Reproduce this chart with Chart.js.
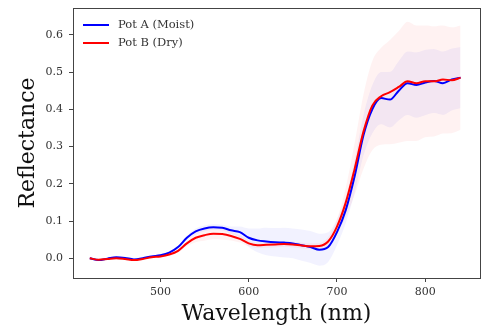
<!DOCTYPE html>
<html>
<head>
<meta charset="utf-8">
<script src="https://cdn.jsdelivr.net/npm/chart.js@4/dist/chart.umd.min.js"></script>
<style>
  html, body { margin: 0; padding: 0; background: #fff; }
  #wrap { width: 484px; height: 329px; }
</style>
</head>
<body>
<div id="wrap"><canvas id="specChart" width="484" height="329"></canvas></div>
<script>
// Wavelengths (nm)
const wavelengths = [420, 430, 440, 450, 460, 470, 480, 490, 500, 510, 520, 530, 540, 550, 560, 570, 580, 590, 600, 610, 620, 630, 640, 650, 660, 670, 680, 690, 700, 710, 720, 730, 740, 750, 760, 770, 780, 790, 800, 810, 820, 830, 840];

// Pot A (Moist) mean reflectance and std
const potAMean = [0.000, -0.005, -0.001, 0.003, 0.001, -0.003, 0.000, 0.005, 0.008, 0.015, 0.030, 0.055, 0.072, 0.080, 0.083, 0.082, 0.075, 0.070, 0.055, 0.048, 0.045, 0.043, 0.042, 0.040, 0.035, 0.030, 0.023, 0.030, 0.070, 0.130, 0.220, 0.330, 0.400, 0.430, 0.426, 0.450, 0.470, 0.465, 0.472, 0.476, 0.470, 0.480, 0.485];
const potAStd = [0.003, 0.003, 0.003, 0.003, 0.003, 0.003, 0.003, 0.003, 0.003, 0.003, 0.004, 0.006, 0.008, 0.008, 0.008, 0.008, 0.010, 0.015, 0.025, 0.032, 0.037, 0.038, 0.040, 0.040, 0.042, 0.043, 0.043, 0.040, 0.035, 0.035, 0.045, 0.055, 0.065, 0.070, 0.075, 0.080, 0.085, 0.088, 0.088, 0.086, 0.085, 0.083, 0.082];

// Pot B (Dry) mean reflectance and std
const potBMean = [0.000, -0.004, -0.002, 0.000, -0.002, -0.005, -0.002, 0.003, 0.005, 0.010, 0.020, 0.040, 0.055, 0.062, 0.066, 0.065, 0.060, 0.052, 0.040, 0.035, 0.036, 0.037, 0.038, 0.037, 0.034, 0.032, 0.033, 0.045, 0.085, 0.150, 0.240, 0.340, 0.410, 0.435, 0.446, 0.460, 0.475, 0.470, 0.475, 0.475, 0.480, 0.478, 0.485];
const potBStd = [0.003, 0.003, 0.003, 0.003, 0.003, 0.003, 0.003, 0.003, 0.003, 0.003, 0.005, 0.008, 0.012, 0.015, 0.015, 0.015, 0.012, 0.010, 0.008, 0.008, 0.008, 0.008, 0.008, 0.008, 0.008, 0.008, 0.008, 0.012, 0.020, 0.040, 0.070, 0.100, 0.120, 0.130, 0.140, 0.150, 0.160, 0.155, 0.150, 0.148, 0.145, 0.142, 0.140];

// Axis ticks
const xTicks = [500, 600, 700, 800];
const yTicks = [0.0, 0.1, 0.2, 0.3, 0.4, 0.5, 0.6];

const serif = "'DejaVu Serif', serif";

function toPoints(vals) {
    return wavelengths.map((w, i) => ({ x: w, y: vals[i] }));
}
function band(mean, std, sign) {
    return wavelengths.map((w, i) => ({ x: w, y: mean[i] + sign * std[i] }));
}
// keep tick labels from pushing the plot area around
function noPad(s) {
    s.paddingTop = 0; s.paddingBottom = 0; s.paddingLeft = 0; s.paddingRight = 0;
}

// Frame around the plot area plus the inset legend
const framePlugin = {
    id: 'frame',
    afterDraw(chart) {
        const ctx = chart.ctx, a = chart.chartArea;
        ctx.save();
        ctx.strokeStyle = '#444';
        ctx.lineWidth = 1;
        ctx.strokeRect(Math.round(a.left) + 0.5, Math.round(a.top) + 0.5,
            Math.round(a.right - a.left), Math.round(a.bottom - a.top));

        const items = [
            { label: 'Pot A (Moist)', color: '#0000ff' },
            { label: 'Pot B (Dry)', color: '#ff0000' }
        ];
        ctx.font = "11.5px " + serif;
        ctx.textBaseline = 'middle';
        items.forEach((it, i) => {
            const y = a.top + 17 + i * 18;
            ctx.strokeStyle = it.color;
            ctx.lineWidth = 2;
            ctx.beginPath();
            ctx.moveTo(a.left + 10, y);
            ctx.lineTo(a.left + 36, y);
            ctx.stroke();
            ctx.fillStyle = '#333';
            ctx.fillText(it.label, a.left + 45, y);
        });
        ctx.restore();
    }
};

const ctx = document.getElementById('specChart').getContext('2d');
new Chart(ctx, {
    type: 'line',
    data: {
        datasets: [
            { label: 'A low', data: band(potAMean, potAStd, -1), borderWidth: 0, pointRadius: 0, fill: false, order: 5 },
            { label: 'A high', data: band(potAMean, potAStd, 1), borderWidth: 0, pointRadius: 0, fill: '-1', backgroundColor: 'rgba(0,0,255,0.05)', order: 5 },
            { label: 'B low', data: band(potBMean, potBStd, -1), borderWidth: 0, pointRadius: 0, fill: false, order: 4 },
            { label: 'B high', data: band(potBMean, potBStd, 1), borderWidth: 0, pointRadius: 0, fill: '-1', backgroundColor: 'rgba(255,0,0,0.05)', order: 4 },
            { label: 'Pot A (Moist)', data: toPoints(potAMean), borderColor: '#0000ff', borderWidth: 2, pointRadius: 0, fill: false, order: 2 },
            { label: 'Pot B (Dry)', data: toPoints(potBMean), borderColor: '#ff0000', borderWidth: 2, pointRadius: 0, fill: false, order: 1 }
        ]
    },
    options: {
        responsive: false,
        animation: false,
        layout: { padding: { top: 8, right: 4, left: 0, bottom: 0 } },
        plugins: {
            legend: { display: false },
            tooltip: { enabled: false }
        },
        elements: { line: { cubicInterpolationMode: 'monotone' } },
        scales: {
            x: {
                type: 'linear',
                min: 401,
                max: 862,
                afterBuildTicks: s => { s.ticks = xTicks.map(v => ({ value: v })); },
                afterFit: s => { s.height = 51; noPad(s); },
                grid: { drawOnChartArea: false, tickLength: 4, color: '#444' },
                border: { display: false },
                ticks: { color: '#333', font: { family: serif, size: 11 }, padding: 4 },
                title: { display: true, text: 'Wavelength (nm)', color: '#111', font: { family: serif, size: 22 }, padding: { top: 0, bottom: 2 } }
            },
            y: {
                min: -0.053,
                max: 0.672,
                afterBuildTicks: s => { s.ticks = yTicks.map(v => ({ value: v })); },
                afterFit: s => { s.width = 73; noPad(s); },
                grid: { drawOnChartArea: false, tickLength: 4, color: '#444' },
                border: { display: false },
                ticks: { color: '#333', font: { family: serif, size: 11 }, padding: 6, callback: v => v.toFixed(1) },
                title: { display: true, text: 'Reflectance', color: '#111', font: { family: serif, size: 22 }, padding: { top: 15, bottom: 0 } }
            }
        }
    },
    plugins: [framePlugin]
});
</script>
</body>
</html>
